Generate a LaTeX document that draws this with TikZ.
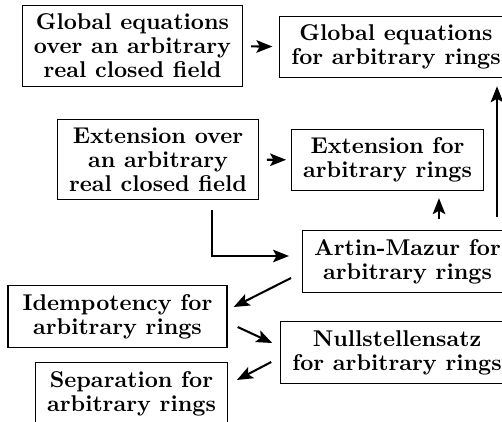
\documentclass[tikz,border=0pt]{standalone}
\usepackage{tikz}
\usetikzlibrary{positioning,arrows.meta,calc}
\tikzset{
  resultbox/.style={draw, line width=0.55pt, align=center, inner xsep=5pt, inner ysep=3.7pt, font=\fontsize{10}{10.5}\selectfont\bfseries},
  implarr/.style={-{Stealth[length=7pt,width=5.5pt,inset=1.5pt]}, line width=0.9pt}
}
\begin{document}
\begin{tikzpicture}[x=0.43825pt, y=-0.43825pt]
  \clip (0,0) rectangle (502,422);
  \node[resultbox] (gloRCF) at (132.5,46) {Global equations\\over an arbitrary\\real closed field};
  \node[resultbox] (gloRings) at (396,47) {Global equations\\for arbitrary rings};
  \node[resultbox] (extRCF) at (158,159.5) {Extension over\\an arbitrary\\real closed field};
  \node[resultbox] (extRings) at (387.5,160) {Extension for\\arbitrary rings};
  \node[resultbox] (artin) at (407.5,261.5) {Artin-Mazur for\\arbitrary rings};
  \node[resultbox, minimum width=96pt] (idem) at (117.5,316.5) {Idempotency for\\arbitrary rings};
  \node[resultbox] (null) at (397,352.5) {Nullstellensatz\\for arbitrary rings};
  \node[resultbox] (sep) at (131.5,393.5) {Separation for\\arbitrary rings};
  \coordinate (up1) at ($(artin.north)+(31.5,0)$);
  \coordinate (up2) at ($(artin.north)+(89.5,0)$);
  \draw[implarr, shorten <=3.5pt, shorten >=3pt] (gloRCF) -- (gloRings);
  \draw[implarr, shorten <=3.5pt, shorten >=2.2pt] (extRCF) -- (extRings);
  \draw[implarr, shorten <=4.4pt, shorten >=5.7pt] ($(extRCF.south)+(54,0)$) |- ($(artin.west)+(0,-5.5)$);
  \draw[implarr, shorten <=4.8pt, shorten >=3pt] (up1) -- (up1 |- extRings.south);
  \draw[implarr, shorten <=5.7pt, shorten >=3.5pt] (up2) -- (up2 |- gloRings.south);
  \draw[implarr] ($(artin.west)+(-11,16.5)$) -- ($(idem.east)+(6,-9.5)$);
  \draw[implarr] ($(idem.east)+(10,10.5)$) -- ($(null.west)+(-8,-9.5)$);
  \draw[implarr] ($(null.west)+(-9,9.5)$) -- ($(sep.east)+(9,-13.5)$);
\end{tikzpicture}
\end{document}
